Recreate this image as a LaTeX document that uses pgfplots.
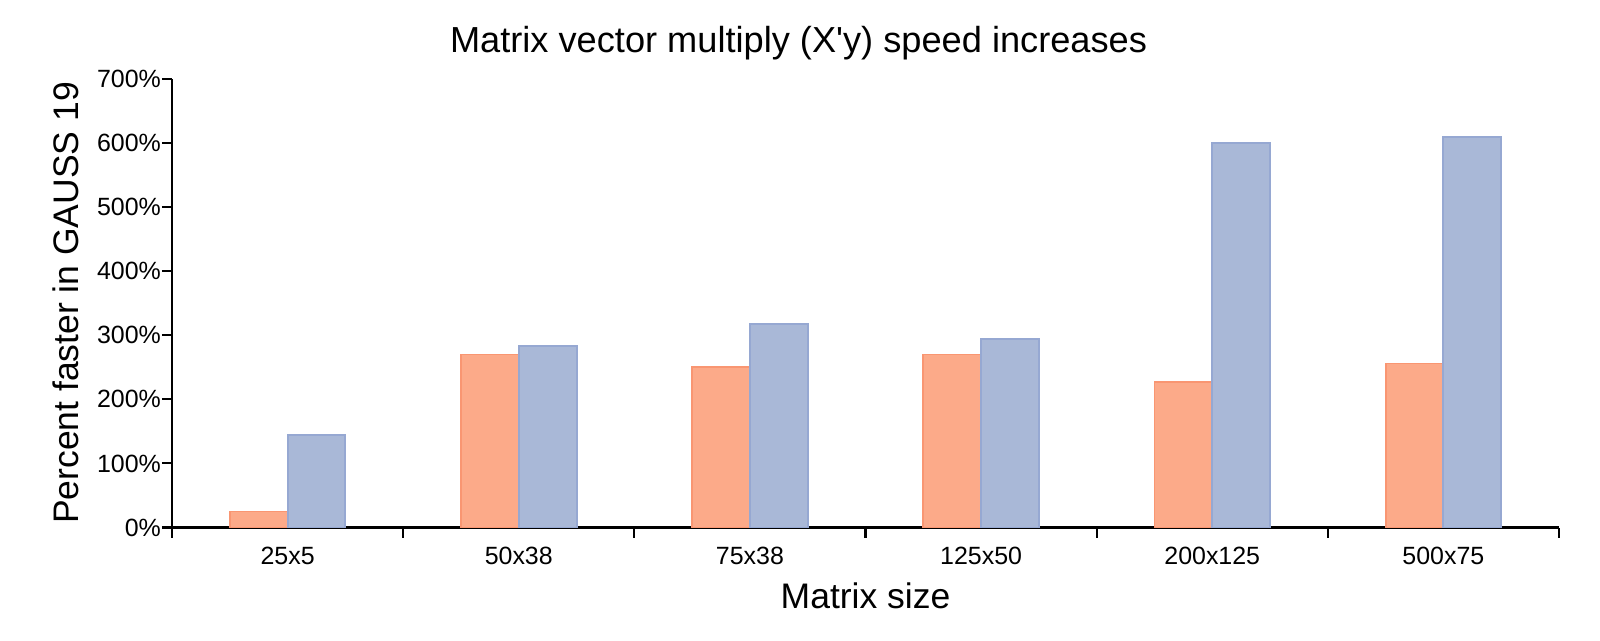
\documentclass[border=0pt]{standalone}
\usepackage{pgfplots}
\pgfplotsset{compat=1.18}
\usepackage{fontspec}
\setmainfont{Liberation Sans}
\definecolor{barOrange}{RGB}{252,170,137}
\definecolor{barOrangeEdge}{RGB}{249,150,114}
\definecolor{barBlue}{RGB}{169,184,215}
\definecolor{barBlueEdge}{RGB}{150,168,210}
\begin{document}
\begin{tikzpicture}
\path[use as bounding box] (-1.72,-1.125) rectangle (14.28,5.275);
\begin{axis}[
    at={(0,0)}, anchor=south west,
    scale only axis,
    width=13.87cm,
    height=4.485cm,
    clip=false,
    xmin=-0.5, xmax=5.5,
    ymin=0, ymax=700,
    axis x line*=bottom,
    axis y line*=left,
    axis line style={-, line width=0.75pt},
    xtick={-0.5,0.5,1.5,2.5,3.5,4.5,5.5},
    x tick label as interval,
    xticklabels={25x5,50x38,75x38,125x50,200x125,500x75},
    ytick={0,100,...,700},
    yticklabel={\pgfmathprintnumber{\tick}\%},
    /pgf/number format/assume math mode=true,
    tick align=outside,
    major tick length=0.1cm,
    tick style={black, line width=0.6pt},
    tick label style={font=\fontsize{7.1}{8.5}\selectfont},
    xticklabel style={yshift=0.9pt},
    yticklabel style={xshift=3.2pt},
]
\addplot[ybar, bar width=0.25, bar shift=-0.125, fill=barOrange, draw=barOrangeEdge, line width=0.55pt]
    coordinates {(0,25) (1,270) (2,251) (3,270) (4,227) (5,256)};
\addplot[ybar, bar width=0.25, bar shift=0.125, fill=barBlue, draw=barBlueEdge, line width=0.55pt]
    coordinates {(0,145) (1,283) (2,317) (3,294) (4,600) (5,609)};

\node[anchor=base, font=\fontsize{10.3}{12}\selectfont] at (axis description cs:0.4517,1.060)
    {Matrix vector multiply (X\textquotesingle y) speed increases};
\node[anchor=base, font=\fontsize{10.1}{12}\selectfont] at (axis description cs:0.5,-0.1795)
    {Matrix size};
\node[anchor=base, rotate=90, font=\fontsize{10.1}{12}\selectfont] at (axis description cs:-0.0671,0.5006)
    {Percent faster in GAUSS 19};
\end{axis}
\end{tikzpicture}
\end{document}
